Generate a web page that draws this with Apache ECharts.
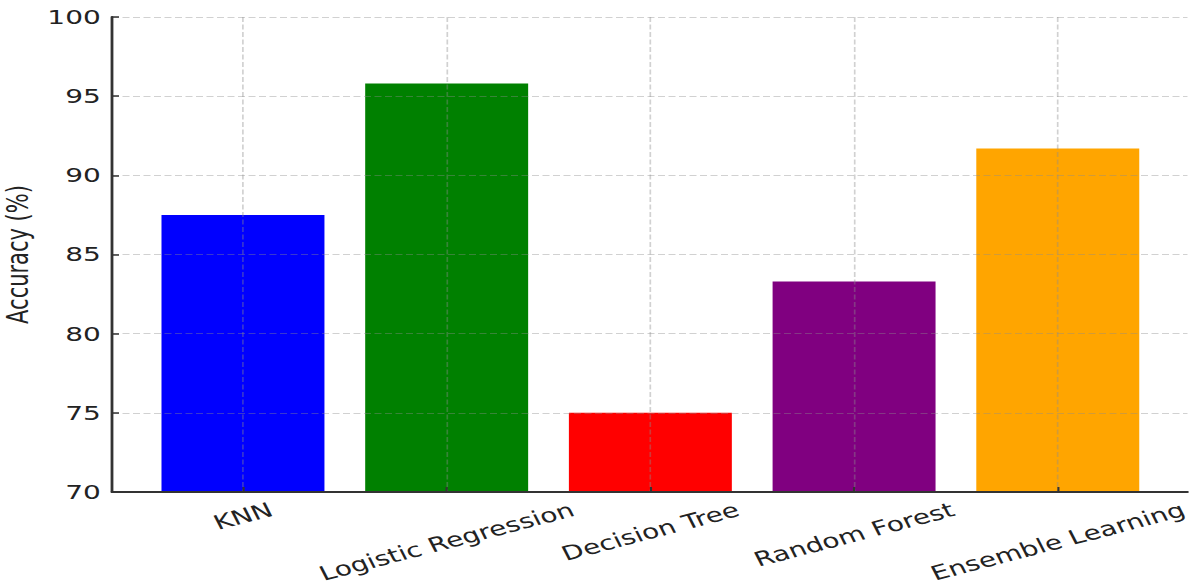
<!DOCTYPE html>
<html><head><meta charset="utf-8">
<script src="https://cdn.jsdelivr.net/npm/echarts@6/dist/echarts.min.js"></script>
<style>
html,body{margin:0;padding:0;background:#fff;overflow:hidden;width:1193px;height:588px}
#wrap{width:852px;height:588px;transform:scaleX(1.4);transform-origin:0 0;}
</style></head><body><div id="wrap"></div>
<script>
// ---- data ----
const categories = ['KNN', 'Logistic Regression', 'Decision Tree', 'Random Forest', 'Ensemble Learning'];
const accuracy = [87.5, 95.8, 75.0, 83.3, 91.7];
const yTicks = [70, 75, 80, 85, 90, 95, 100];
const yName = 'Accuracy (%)';
// ---- style ----
const barColors = ['#0000ff', '#008000', '#ff0000', '#800080', '#ffa500'];

const FONT = '"DejaVu Sans", sans-serif';
const LABEL_SIZE = 20;
const LINE_H = 23;
const ROT = 20;
const th = ROT * Math.PI / 180;
const ctx = document.createElement('canvas').getContext('2d');
ctx.font = LABEL_SIZE + 'px "DejaVu Sans"';
// matplotlib-like centred rotated labels: the rotated box of each label hangs below its tick
const catData = categories.map(name => {
  const w = ctx.measureText(name).width;
  const H = w * Math.sin(th) + LINE_H * Math.cos(th);
  const D = H / 2;
  const padTop = Math.max(0, D * Math.cos(th) - LINE_H / 2);
  const padRight = 2 * D * Math.sin(th);
  return { value: name, textStyle: { align: 'center', verticalAlign: 'top',
    padding: [padTop, padRight, 0, 0] } };
});

const gridLine = { show: true, alignWithLabel: true, lineStyle: { color: 'rgba(140,140,140,0.4)', width: 1.2, type: [5, 2.5] } };
const yMin = yTicks[0], yMax = yTicks[yTicks.length - 1], yStep = yTicks[1] - yTicks[0];

const chart = echarts.init(document.getElementById('wrap'), null, { renderer: 'svg', width: 852, height: 588 });
chart.setOption({
  animation: false,
  backgroundColor: '#fff',
  grid: [
    { left: 80, right: 3.8, top: 17, bottom: 96, outerBoundsMode: 'none', containLabel: false },
    { left: 100.8, right: 23.7, top: 17, bottom: 96, outerBoundsMode: 'none', containLabel: false }
  ],
  xAxis: [
    { type: 'value', gridIndex: 0, min: 0, max: 1, z: 5,
      axisLine: { show: true, onZero: false, lineStyle: { color: '#333', width: 2 } },
      axisTick: { show: false }, axisLabel: { show: false }, splitLine: { show: false } },
    { type: 'category', gridIndex: 1, data: catData, z: 4,
      axisLine: { show: false },
      axisTick: { show: true, inside: true, length: 5, alignWithLabel: true, lineStyle: { color: '#333', width: 1.5 } },
      splitLine: gridLine,
      axisLabel: { interval: 0, rotate: ROT, margin: 6,
        fontFamily: FONT, fontSize: LABEL_SIZE, color: '#222', lineHeight: LINE_H } }
  ],
  yAxis: [
    { type: 'value', gridIndex: 0, min: yMin, max: yMax, interval: yStep, z: 4,
      name: yName, nameLocation: 'middle', nameGap: 49, nameRotate: 90,
      nameTextStyle: { fontFamily: FONT, fontSize: 21, color: '#222' },
      axisLine: { show: true, lineStyle: { color: '#333', width: 2 } },
      axisTick: { show: true, inside: true, length: 5, lineStyle: { color: '#333', width: 1.5 } },
      axisLabel: { margin: 8, fontFamily: FONT, fontSize: 20, color: '#222' },
      splitLine: gridLine },
    { type: 'value', gridIndex: 1, min: yMin, max: yMax, interval: yStep, show: false }
  ],
  series: [{
    type: 'bar', xAxisIndex: 1, yAxisIndex: 1, barWidth: '80%', z: 2,
    data: accuracy.map((v, i) => ({ value: v, itemStyle: { color: barColors[i] } }))
  }]
});
</script></body></html>
